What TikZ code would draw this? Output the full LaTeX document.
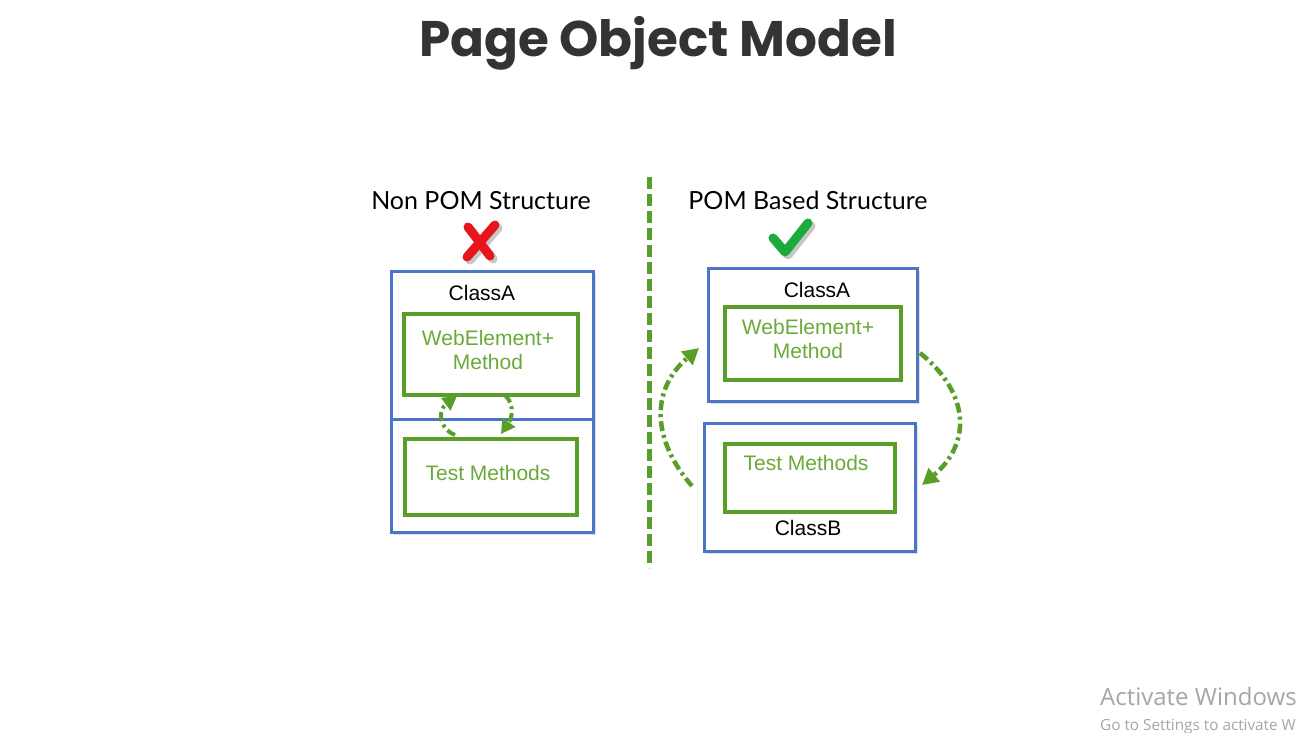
\documentclass[tikz,border=0pt]{standalone}
\usepackage{fontspec}
\setmainfont{Liberation Sans}
\newfontfamily\titlefont{Poppins}
\newfontfamily\handfont{Lato}
\newfontfamily\winfont{Open Sans}
\usetikzlibrary{arrows.meta,shadows}
\definecolor{pblue}{HTML}{4A76C9}
\definecolor{pgreen}{HTML}{5A9E2A}
\definecolor{tgreen}{HTML}{6AAA38}
\definecolor{xred}{HTML}{E8151B}
\definecolor{cgreen}{HTML}{1CAA3C}
\definecolor{tgray}{HTML}{333333}
\tikzset{
  bluebox/.style={draw=pblue,line width=3pt,fill=white,drop shadow={opacity=0.25,shadow xshift=2pt,shadow yshift=-2pt}},
  greenbox/.style={draw=pgreen,line width=4pt,fill=white,drop shadow={opacity=0.25,shadow xshift=2pt,shadow yshift=-2pt}},
  gtext/.style={text=tgreen,font=\fontsize{21}{24}\selectfont,align=center},
  ctext/.style={text=black,font=\fontsize{21}{24}\selectfont},
  hand/.style={font=\handfont\fontsize{25}{28}\selectfont,text=black},
  arr/.style={draw=pgreen,line width=4.5pt,dash pattern=on 10pt off 4pt on 3pt off 4pt,-{Triangle[length=16pt,width=17pt]}},
  sarr/.style={draw=pgreen,line width=4pt,dash pattern=on 9pt off 4pt on 3pt off 4pt,-{Triangle[length=14pt,width=15pt]}},
  divider/.style={draw=pgreen,line width=5pt,dash pattern=on 12pt off 5pt}
}
\begin{document}
\begin{tikzpicture}[x=1pt,y=-1pt]
\useasboundingbox[fill=white] (0,0) rectangle (1312,733);
% title
\node[font=\titlefont\bfseries\fontsize{50}{54}\selectfont,text=tgray] (title) at (658,43) {Page Object Model};
% divider
\coordinate (dtop) at (649,177);
\coordinate (dbot) at (649,568);
\draw[divider] (dtop) -- (dbot);
% ---------- left ----------
\node[hand] (lhead) at (481,201) {Non POM Structure};
% red X
\node (xmark) at (480,240) {};
\begin{scope}[shift={(3,3)}]
\draw[gray!45,line width=9pt,line cap=round] (468,227) -- (490,256);
\draw[gray!45,line width=9pt,line cap=round] (495,225) -- (467,257);
\end{scope}
\draw[xred,line width=9pt,line cap=round] (468,227) -- (490,256);
\draw[xred,line width=9pt,line cap=round] (495,225) -- (467,257);
\node[bluebox,minimum width=202pt,minimum height=148pt,anchor=north west] (lA) at (390,270) {};
\node[bluebox,minimum width=202pt,minimum height=113pt,anchor=north west] (lB) at (390,418) {};
\node[ctext] (lAlabel) at (482,293) {ClassA};
\node[greenbox,minimum width=174pt,minimum height=81pt,anchor=north west] (lweb) at (402,312) {};
\node[gtext] at (488,350) {WebElement+\\Method};
\node[greenbox,minimum width=172pt,minimum height=76pt,anchor=north west] (ltest) at (403,437) {};
\node[gtext] at (488,473) {Test Methods};
\coordinate (la1) at (455,435);
\coordinate (la2) at (457,396);
\coordinate (lb1) at (505,395);
\coordinate (lb2) at (501,434);
\draw[sarr] (la1) .. controls (438,428) and (438,410) .. (la2);
\draw[sarr] (lb1) .. controls (515,405) and (512,418) .. (lb2);
% ---------- right ----------
\node[hand] (rhead) at (808,200) {POM Based Structure};
% check mark
\begin{scope}[shift={(3,3)}]
\draw[gray!45,line width=9pt,line cap=round,line join=round] (773,238) -- (785,252) -- (808,223);
\end{scope}
\draw[cgreen,line width=9pt,line cap=round,line join=round] (773,238) -- (785,252) -- (808,223);
\node (check) at (790,238) {};
\node[bluebox,minimum width=209pt,minimum height=133pt,anchor=north west] (rA) at (707,267) {};
\node[ctext] (rAlabel) at (817,290) {ClassA};
\node[greenbox,minimum width=176pt,minimum height=73pt,anchor=north west] (rweb) at (723,305) {};
\node[gtext] at (808,339) {WebElement+\\Method};
\node[bluebox,minimum width=211pt,minimum height=128pt,anchor=north west] (rB) at (703,422) {};
\node[greenbox,minimum width=170pt,minimum height=68pt,anchor=north west] (rtest) at (723,442) {};
\node[gtext] at (806,463) {Test Methods};
\node[ctext] (rBlabel) at (808,528) {ClassB};
\coordinate (ra1) at (692,486);
\coordinate (ra2) at (699,348);
\coordinate (rb1) at (920,353);
\coordinate (rb2) at (922,485);
\draw[arr] (ra1) .. controls (652,440) and (650,390) .. (ra2);
\draw[arr] (rb1) .. controls (972,395) and (970,445) .. (rb2);
% watermark
\node[anchor=base west,font=\winfont\fontsize{24}{26}\selectfont,text=black!35,inner sep=0pt] (w1) at (1100,705) {Activate Windows};
\node[anchor=base west,font=\winfont\fontsize{15.3}{18}\selectfont,text=black!35,inner sep=0pt] (w2) at (1100,730) {Go to Settings to activate W};
\end{tikzpicture}
\end{document}
